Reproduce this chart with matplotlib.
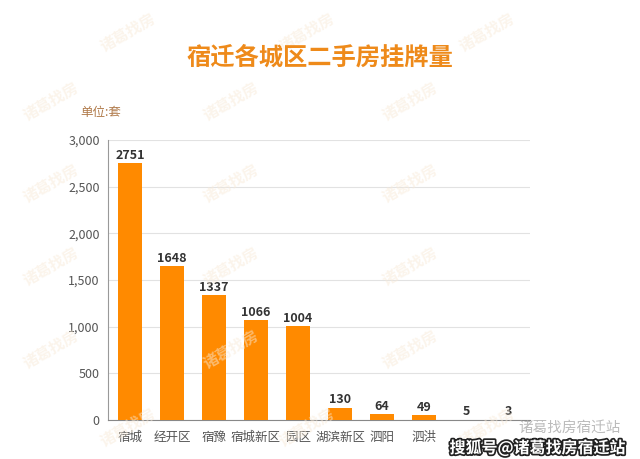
import matplotlib.pyplot as plt
import matplotlib.patheffects as pe

plt.rcParams['font.family'] = ['Noto Sans CJK SC', 'DejaVu Sans']

districts = ['宿城', '经开区', '宿豫', '宿城新区', '园区', '湖滨新区', '泗阳', '泗洪', '', '']
listings = [2751, 1648, 1337, 1066, 1004, 130, 64, 49, 5, 3]
yticks = [0, 500, 1000, 1500, 2000, 2500, 3000]

fig = plt.figure(figsize=(6.4, 4.59), dpi=100)
ax = fig.add_axes([0.169, 0.085, 0.659, 0.61])

# faint watermark pattern
for wx in [0.08, 0.36, 0.64]:
    for wy in [0.93, 0.78, 0.6, 0.42, 0.24, 0.07]:
        fig.text(wx + (0.12 if round(wy * 100) % 2 else 0), wy, '诸葛找房', rotation=30,
                 fontsize=11, color='#f8ead8', alpha=0.5, ha='center', va='center',
                 fontweight='bold', zorder=0)

x = list(range(len(districts)))
ax.bar(x, listings, width=0.58, color='#ff8a00', zorder=3)
for xi, v in zip(x, listings):
    ax.text(xi, v + 15, str(v), ha='center', va='bottom', fontsize=9,
            fontweight='bold', color='#333333', zorder=4)

ax.set_xlim(-0.52, 9.52)
ax.set_ylim(0, 3000)
ax.set_yticks(yticks)
ax.set_yticklabels([f'{t:,}' for t in yticks])
ax.set_xticks(x)
ax.set_xticklabels(districts)
ax.tick_params(axis='both', length=0, labelsize=9, colors='#555555')
ax.tick_params(axis='y', pad=6)
ax.tick_params(axis='x', pad=8)
ax.yaxis.grid(True, color='#e2e2e2', linewidth=0.8, zorder=0)
ax.set_axisbelow(True)
ax.patch.set_alpha(0)
for s in ['top', 'right']:
    ax.spines[s].set_visible(False)
ax.spines['left'].set_color('#999999')
ax.spines['bottom'].set_color('#888888')

fig.text(0.5, 0.875, '宿迁各城区二手房挂牌量', ha='center', va='center',
         fontsize=17.5, fontweight='bold', color='#ee8a1a')
fig.text(0.125, 0.755, '单位:套', ha='left', va='center', fontsize=9, color='#b07a4a')

fig.text(0.89, 0.068, '诸葛找房宿迁站', ha='center', va='center', fontsize=10.5,
         color='#aaaaaa', alpha=0.8)
fig.text(0.84, 0.024, '搜狐号@诸葛找房宿迁站', ha='center', va='center', fontsize=11.5,
         color='white', fontweight='bold',
         path_effects=[pe.withStroke(linewidth=2.5, foreground='#222222')])

fig.savefig('out.png', dpi=100)
